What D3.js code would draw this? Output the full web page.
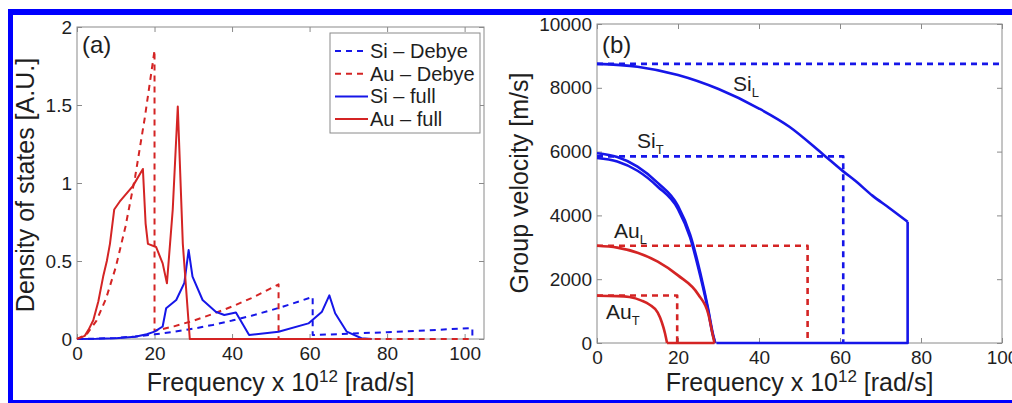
<!DOCTYPE html>
<html><head><meta charset="utf-8">
<script src="https://cdn.jsdelivr.net/npm/d3@7"></script>
<style>
html,body{margin:0;padding:0;background:#fff;}
svg{display:block;font-family:"Liberation Sans",Arial,Helvetica,sans-serif;}
</style></head>
<body>
<svg id="chart" width="1012" height="403"></svg>
<script>
// ---------- Panel (a): density of states ----------
const aXTicks = [0, 20, 40, 60, 80, 100];
const aYTicks = [0, 0.5, 1, 1.5, 2];
const siDebye = [[0,0],[5,0.002],[10,0.007],[15,0.016],[20,0.03],[25,0.046],[30,0.066],[35,0.09],[40,0.118],[45,0.149],[50,0.184],[55,0.222],[60.8,0.27],[60.8,0.025],[70,0.034],[80,0.044],[90,0.055],[102,0.07],[102,0]];
const auDebye = [[0,0],[2.5,0.03],[5,0.116],[7.5,0.26],[10,0.46],[12.5,0.72],[15,1.04],[17.5,1.42],[20,1.85],[20,0.052],[25,0.081],[30,0.117],[35,0.16],[40,0.208],[45,0.262],[52,0.35],[52,0],[102,0]];
const siFull = [[0,0],[5,0.001],[10,0.005],[15,0.014],[18,0.03],[20,0.047],[22.1,0.08],[23,0.197],[25.6,0.25],[27.7,0.36],[28.8,0.57],[29.8,0.4],[32.4,0.25],[35.8,0.175],[38,0.154],[41,0.17],[44.4,0.026],[52,0.047],[59.7,0.1],[63.2,0.175],[65.1,0.28],[66.6,0.165],[69.6,0.047],[73.4,0.005],[76,0]];
const auFull = [[0,0],[2,0.02],[3,0.06],[4.2,0.12],[5.5,0.24],[6.75,0.4],[7.7,0.5],[8.5,0.61],[9.6,0.83],[11,0.88],[14.4,0.98],[17,1.09],[17.7,0.74],[18.3,0.61],[20.4,0.59],[22.1,0.485],[23.2,0.357],[24.7,0.83],[26,1.49],[27.3,0.61],[29.1,0],[76,0]];
const legendLabels = ["Si \u2013 Debye", "Au \u2013 Debye", "Si \u2013 full", "Au \u2013 full"];

// ---------- Panel (b): group velocity ----------
const bXTicks = [0, 20, 40, 60, 80, 100];
const bYTicks = [0, 2000, 4000, 6000, 8000, 10000];
const siLFull = [[0,8750],[10,8660],[20,8400],[30,7960],[40,7350],[47.5,6780],[55.5,5950],[60.8,5380],[64,5060],[68,4620],[72,4250],[76.7,3800]];
const siLTail = [[76.7,3800],[76.7,0],[29.5,0]];
const siT1Full = [[0,5950],[5,5830],[10,5530],[15,5020],[20,4300],[23,3400],[25.5,2200],[27.4,1100],[28.6,300],[29.2,0]];
const siT2Full = [[0,5800],[5,5690],[10,5400],[15,4900],[20,4200],[23,3300],[25.5,2100],[27.4,1040],[28.6,250],[29.2,0]];
const auLFull = [[0,3050],[5,2990],[10,2830],[15,2550],[20,2120],[25,1520],[27.5,900],[28.5,300],[29,0]];
const auTFull = [[0,1480],[5,1470],[8,1440],[11,1330],[13,1200],[15,950],[16,650],[16.8,300],[17.3,0]];
const auTTail = [[17.3,0],[29,0]];
const siLDebye = [[0,8750],[100,8750]];
const siTDebye = [[0,5850],[60.8,5850],[60.8,0]];
const auLDebye = [[0,3050],[52,3050],[52,0]];
const auTDebye = [[0,1490],[19.8,1490],[19.8,0]];

const BLUE = "#1616e8", RED = "#d42424", GRAY = "#8a8a8a", TXT = "#1e1e1e";

const svg = d3.select("#chart");

// blue frame
svg.append("rect").attr("x",8).attr("y",9).attr("width",1010).attr("height",6).attr("fill","#0000ff");
svg.append("rect").attr("x",8).attr("y",9).attr("width",5).attr("height",400).attr("fill","#0000ff");
svg.append("rect").attr("x",8).attr("y",400).attr("width",1010).attr("height",5).attr("fill","#0000ff");

function panel(cfg){
  const g = svg.append("g");
  const x = d3.scaleLinear().domain(cfg.xd).range(cfg.xr);
  const y = d3.scaleLinear().domain(cfg.yd).range(cfg.yr);
  g.append("rect").attr("x",cfg.xr[0]).attr("y",cfg.yr[1])
    .attr("width",cfg.xr[1]-cfg.xr[0]).attr("height",cfg.yr[0]-cfg.yr[1])
    .attr("fill","none").attr("stroke",GRAY).attr("stroke-width",1);
  const styleAxis = (sel)=>{
    sel.attr("font-family",null);
    sel.select(".domain").remove();
    sel.selectAll(".tick line").attr("stroke",GRAY);
    sel.selectAll(".tick text").attr("fill",TXT).attr("font-size",19);
  };
  g.append("g").attr("transform",`translate(0,${cfg.yr[0]})`)
    .call(d3.axisBottom(x).tickValues(cfg.xt).tickSizeInner(-5).tickSizeOuter(0).tickPadding(8).tickFormat(d3.format("d")))
    .call(styleAxis);
  g.append("g").attr("transform",`translate(0,${cfg.yr[1]})`)
    .call(d3.axisTop(x).tickValues(cfg.xt).tickSizeInner(-5).tickSizeOuter(0).tickFormat(""))
    .call(styleAxis);
  g.append("g").attr("transform",`translate(${cfg.xr[0]},0)`)
    .call(d3.axisLeft(y).tickValues(cfg.yt).tickSizeInner(-5).tickSizeOuter(0).tickPadding(5).tickFormat(cfg.yf))
    .call(styleAxis);
  g.append("g").attr("transform",`translate(${cfg.xr[1]},0)`)
    .call(d3.axisRight(y).tickValues(cfg.yt).tickSizeInner(-5).tickSizeOuter(0).tickFormat(""))
    .call(styleAxis);
  const lineLin = d3.line().x(d=>x(d[0])).y(d=>y(d[1]));
  const lineSm = d3.line().x(d=>x(d[0])).y(d=>y(d[1])).curve(d3.curveMonotoneX);
  cfg.series.forEach(s=>{
    g.append("path").attr("d",(s.smooth?lineSm:lineLin)(s.data)).attr("fill","none")
      .attr("stroke",s.color).attr("stroke-width",s.w)
      .attr("stroke-dasharray",s.dash?"6,5":null)
      .attr("stroke-linejoin","round");
  });
  g.append("text").attr("x",cfg.xr[0]+5).attr("y",53).attr("font-size",24).attr("fill",TXT).text(cfg.tag);
  const xl = g.append("text").attr("x",(cfg.xr[0]+cfg.xr[1])/2).attr("y",391)
    .attr("text-anchor","middle").attr("font-size",25).attr("fill",TXT);
  xl.append("tspan").text("Frequency x 10");
  xl.append("tspan").attr("dy",-9).attr("font-size",17).text("12");
  xl.append("tspan").attr("dy",9).text(" [rad/s]");
  g.append("text").attr("transform",`translate(${cfg.ylx},${cfg.ylc}) rotate(-90)`)
    .attr("text-anchor","middle").attr("font-size",25).attr("fill",TXT).text(cfg.ylabel);
  return {g,x,y};
}

const A = panel({
  xd:[0,105], xr:[77,484], yd:[0,2], yr:[339,27],
  xt:aXTicks, yt:aYTicks, yf:d3.format("~g"), tag:"(a)",
  ylabel:"Density of states [A.U.]", ylx:34, ylc:185,
  series:[
    {data:siDebye,color:BLUE,w:2,dash:true},
    {data:auDebye,color:RED,w:2,dash:true},
    {data:siFull,color:BLUE,w:2},
    {data:auFull,color:RED,w:2}
  ]
});

// legend
const lg = A.g.append("g");
lg.append("rect").attr("x",330).attr("y",33).attr("width",150).attr("height",100)
  .attr("fill","#fff").attr("stroke",GRAY).attr("stroke-width",1);
const legStyles = [{c:BLUE,d:true},{c:RED,d:true},{c:BLUE,d:false},{c:RED,d:false}];
legendLabels.forEach((t,i)=>{
  const yy = 51 + i*22.7;
  lg.append("line").attr("x1",335).attr("x2",368).attr("y1",yy).attr("y2",yy)
    .attr("stroke",legStyles[i].c).attr("stroke-width",2).attr("stroke-dasharray",legStyles[i].d?"6,5":null);
  lg.append("text").attr("x",370).attr("y",yy+7).attr("font-size",20).attr("fill",TXT).text(t);
});

const B = panel({
  xd:[0,100], xr:[597,1002], yd:[0,10000], yr:[343,24],
  xt:bXTicks, yt:bYTicks, yf:d3.format("d"), tag:"(b)",
  ylabel:"Group velocity [m/s]", ylx:528, ylc:183,
  series:[
    {data:siLDebye,color:BLUE,w:2.6,dash:true},
    {data:siTDebye,color:BLUE,w:2.6,dash:true},
    {data:auLDebye,color:RED,w:2.6,dash:true},
    {data:auTDebye,color:RED,w:2.6,dash:true},
    {data:siT1Full,color:BLUE,w:2.6,smooth:true},
    {data:siT2Full,color:BLUE,w:2.6,smooth:true},
    {data:siLFull,color:BLUE,w:2.6,smooth:true},
    {data:siLTail,color:BLUE,w:2.6},
    {data:auLFull,color:RED,w:2.6,smooth:true},
    {data:auTFull,color:RED,w:2.6,smooth:true},
    {data:auTTail,color:RED,w:2.6}
  ]
});

const branchLabels = [
  {m:"Si", s:"L", x:733, y:91},
  {m:"Si", s:"T", x:637, y:148},
  {m:"Au", s:"L", x:614, y:238},
  {m:"Au", s:"T", x:606, y:319}
];
branchLabels.forEach(b=>{
  const t = B.g.append("text").attr("x",b.x).attr("y",b.y).attr("font-size",21).attr("fill",TXT);
  t.append("tspan").text(b.m);
  t.append("tspan").attr("dy",6).attr("font-size",13).text(b.s);
});
</script>
</body></html>
